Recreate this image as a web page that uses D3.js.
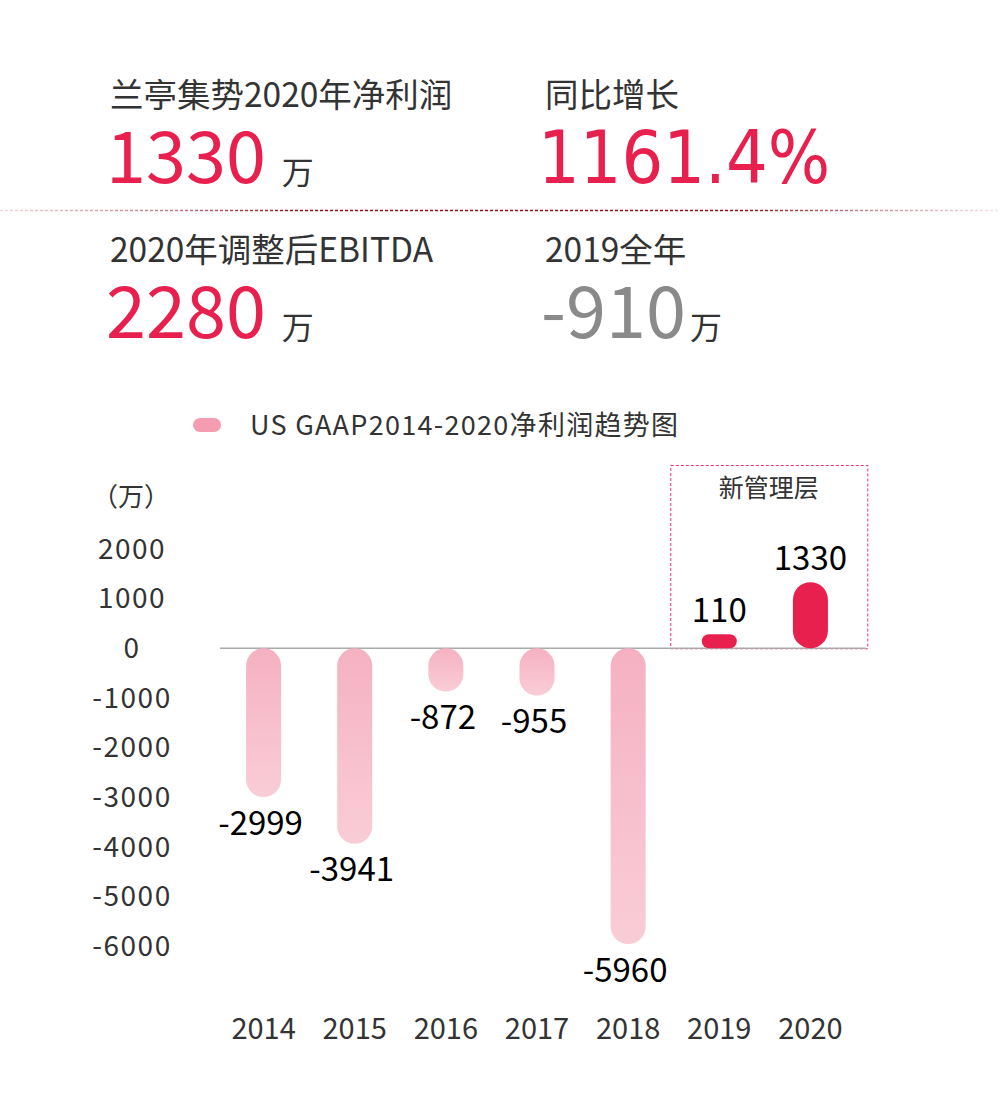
<!DOCTYPE html>
<html>
<head>
<meta charset="utf-8">
<script src="https://cdn.jsdelivr.net/npm/d3@7"></script>
<style>
  body { margin: 0; background: #fff; }
  svg text { font-family: "Noto Sans CJK SC", "Noto Sans", sans-serif; }
</style>
</head>
<body>
<div id="chart"></div>
<script>
// net profit by year (万)
var years = ["2014", "2015", "2016", "2017", "2018", "2019", "2020"];
var profits = [-2999, -3941, -872, -955, -5960, 110, 1330];
var yTicks = [2000, 1000, 0, -1000, -2000, -3000, -4000, -5000, -6000];
var newMgmtYears = ["2019", "2020"];

// headline figures
var headlines = [
  { label: "兰亭集势2020年净利润", value: "1330", unit: "万", col: 0, row: 0, grey: false, alt: false },
  { label: "同比增长", value: "1161.4%", unit: "", col: 1, row: 0, grey: false, alt: true },
  { label: "2020年调整后EBITDA", value: "2280", unit: "万", col: 0, row: 1, grey: false, alt: false },
  { label: "2019全年", value: "-910", unit: "万", col: 1, row: 1, grey: true, alt: false }
];

var red = "#e8204e";
var W = 1000, H = 1100;

var svg = d3.select("#chart").append("svg")
  .attr("width", W)
  .attr("height", H);

var defs = svg.append("defs");

// dashed separator fades out at both ends
var sepGrad = defs.append("linearGradient")
  .attr("id", "sepGrad")
  .attr("gradientUnits", "userSpaceOnUse")
  .attr("x1", 0).attr("x2", W).attr("y1", 0).attr("y2", 0);
sepGrad.append("stop").attr("offset", "0%").attr("stop-color", "#f3d6da");
sepGrad.append("stop").attr("offset", "18%").attr("stop-color", "#c47480");
sepGrad.append("stop").attr("offset", "30%").attr("stop-color", "#9e0a1b");
sepGrad.append("stop").attr("offset", "74%").attr("stop-color", "#9e0a1b");
sepGrad.append("stop").attr("offset", "88%").attr("stop-color", "#d08f99");
sepGrad.append("stop").attr("offset", "100%").attr("stop-color", "#f7e6e9");

var barGrad = defs.append("linearGradient")
  .attr("id", "negGrad")
  .attr("x1", 0).attr("x2", 0).attr("y1", 0).attr("y2", 1);
barGrad.append("stop").attr("offset", "0%").attr("stop-color", "#f5b1c1");
barGrad.append("stop").attr("offset", "100%").attr("stop-color", "#f9cdd6");

// ---- headline block ----
var colX = [110, 545];
var rowY = [107, 262];

var heads = svg.append("g").selectAll("g").data(headlines).enter().append("g")
  .attr("transform", d => "translate(" + colX[d.col] + "," + rowY[d.row] + ")");

heads.append("text")
  .attr("x", 0).attr("y", 0)
  .attr("font-size", 33.5)
  .attr("fill", "#333")
  .text(d => d.label);

heads.append("text")
  .attr("class", "big")
  .attr("x", d => d.alt ? -7 : -4)
  .attr("y", 76)
  .attr("font-size", d => d.alt ? 73 : 72)
  .attr("fill", d => d.grey ? "#8a8a8a" : red)
  .style("font-family", d => d.alt ? "'DejaVu Sans Condensed', 'DejaVu Sans'" : null)
  .style("font-stretch", d => d.alt ? "condensed" : null)
  .text(d => d.value);

heads.each(function(d) {
  if (!d.unit) return;
  var g = d3.select(this);
  var w = g.select("text.big").node().getComputedTextLength();
  g.append("text")
    .attr("x", -4 + w + (d.grey ? 4 : 16))
    .attr("y", 77)
    .attr("font-size", 32)
    .attr("fill", "#333")
    .text(d.unit);
});

svg.append("line")
  .attr("x1", 0).attr("x2", W)
  .attr("y1", 210.5).attr("y2", 210.5)
  .attr("stroke", "url(#sepGrad)")
  .attr("stroke-width", 1.3)
  .attr("stroke-dasharray", "3,2");

// ---- legend ----
var legend = svg.append("g").attr("transform", "translate(193,425)");
legend.append("rect")
  .attr("x", 0).attr("y", -7)
  .attr("width", 28).attr("height", 14)
  .attr("rx", 7)
  .attr("fill", "#f59cb1");
legend.append("text")
  .attr("x", 57).attr("y", 10)
  .attr("font-size", 27)
  .attr("letter-spacing", 1.3)
  .attr("fill", "#333")
  .text("US GAAP2014-2020净利润趋势图");

// ---- bar chart ----
var x = d3.scaleBand().domain(years).range([218, 856]);
var y = d3.scaleLinear().domain([-6000, 2000]).range([946, 549]);
var barW = 35;
var minH = 14;

// new management box
var boxX0 = x(newMgmtYears[0]) + x.bandwidth() / 2 - 49;
svg.append("rect")
  .attr("x", boxX0 + 0.5)
  .attr("y", 465.5)
  .attr("width", 197)
  .attr("height", y(0) - 465)
  .attr("fill", "none")
  .attr("stroke", "#e8386a")
  .attr("stroke-dasharray", "3,2");
svg.append("text")
  .attr("x", boxX0 + 98.5)
  .attr("y", 497)
  .attr("text-anchor", "middle")
  .attr("font-size", 25)
  .attr("fill", "#333")
  .text("新管理层");

// zero line
svg.append("line")
  .attr("x1", 220).attr("x2", 866)
  .attr("y1", y(0)).attr("y2", y(0))
  .attr("stroke", "#aaa")
  .attr("stroke-width", 1.5);

// y tick labels
svg.append("text")
  .attr("x", 131).attr("y", 506)
  .attr("text-anchor", "middle")
  .attr("font-size", 26)
  .attr("fill", "#333")
  .text("（万）");

svg.append("g").selectAll("text").data(yTicks).enter().append("text")
  .attr("x", 132)
  .attr("y", d => y(d))
  .attr("dy", "0.35em")
  .attr("text-anchor", "middle")
  .attr("font-size", 28)
  .attr("letter-spacing", 1.5)
  .attr("fill", "#333")
  .text(d => d);

// x labels
svg.append("g").selectAll("text").data(years).enter().append("text")
  .attr("x", d => x(d) + x.bandwidth() / 2)
  .attr("y", 1039)
  .attr("text-anchor", "middle")
  .attr("font-size", 29)
  .attr("fill", "#333")
  .text(d => d);

var data = years.map((yr, i) => ({ year: yr, v: profits[i] }));

function barH(d) {
  return Math.max(Math.abs(y(d.v) - y(0)), minH);
}

svg.append("g").selectAll("rect").data(data).enter().append("rect")
  .attr("x", d => x(d.year) + x.bandwidth() / 2 - barW / 2)
  .attr("y", d => d.v < 0 ? y(0) : y(0) - barH(d))
  .attr("width", barW)
  .attr("height", d => barH(d))
  .attr("rx", d => Math.min(barW / 2, barH(d) / 2))
  .attr("fill", d => d.v < 0 ? "url(#negGrad)" : red);

svg.append("g").selectAll("text").data(data).enter().append("text")
  .attr("x", d => x(d.year) + x.bandwidth() / 2 - (d.v < 0 ? 3 : 0))
  .attr("y", d => d.v < 0 ? y(0) + barH(d) + 26 : y(0) - barH(d) - 24)
  .attr("dy", "0.35em")
  .attr("text-anchor", "middle")
  .attr("font-size", 33)
  .attr("fill", "#000")
  .text(d => d.v);
</script>
</body>
</html>
